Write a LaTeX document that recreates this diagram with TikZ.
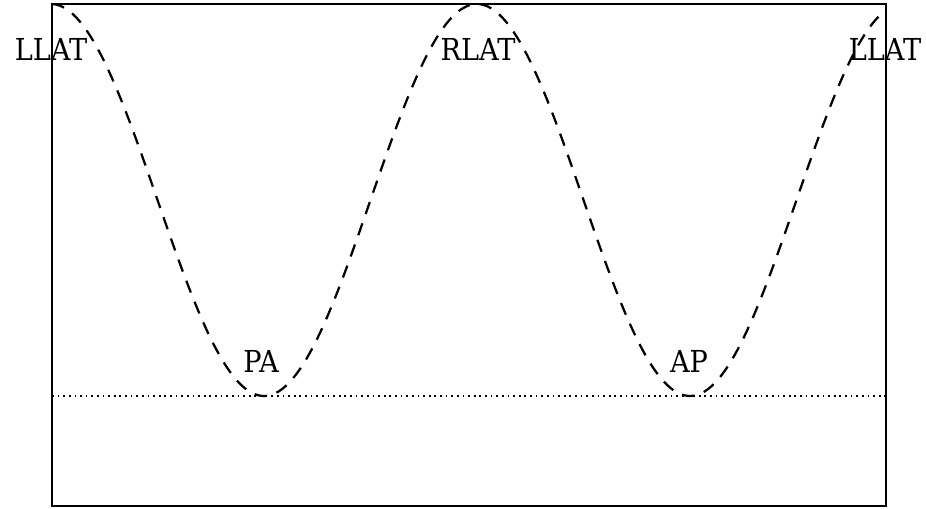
\documentclass[tikz,border=0pt]{standalone}
\usepackage{fontspec}
\setmainfont{DejaVu Serif}
\usepackage{tikz}
\usetikzlibrary{positioning}
\newcommand{\lbltext}[1]{\scalebox{0.9}[1]{#1}}

\begin{document}
\begin{tikzpicture}[
  x=0.025cm, y=-0.025cm,
  wave/.style={line width=1.6pt, dash pattern=on 9pt off 7pt},
  frame/.style={line width=1.3pt},
  level/.style={line width=1pt, dash pattern=on 1.2pt off 2.8pt},
  label/.style={font=\fontsize{21.5}{26}\selectfont, anchor=base, inner sep=0pt},
]
  \useasboundingbox (0,0) rectangle (926,508);
  % Frame
  \draw[frame] (52,4) rectangle (886,506);
  % Reference level
  \coordinate (levelL) at (52,396);
  \coordinate (levelR) at (886,396);
  \draw[level] (levelL) -- (levelR);
  % Curve
  \draw[wave] plot[domain=52:886, samples=240]
    (\x, {200-196*cos(0.84507*(\x-51))});
  % Labels
  \node[label] (llatL) at (51,60) {\lbltext{LLAT}};
  \node[label] (rlat) at (478,60) {\lbltext{RLAT}};
  \node[label] (llatR) at (885,60) {\lbltext{LLAT}};
  \node[label] (pa) at (261,372) {\lbltext{PA}};
  \node[label] (ap) at (689,372) {\lbltext{AP}};
\end{tikzpicture}
\end{document}
